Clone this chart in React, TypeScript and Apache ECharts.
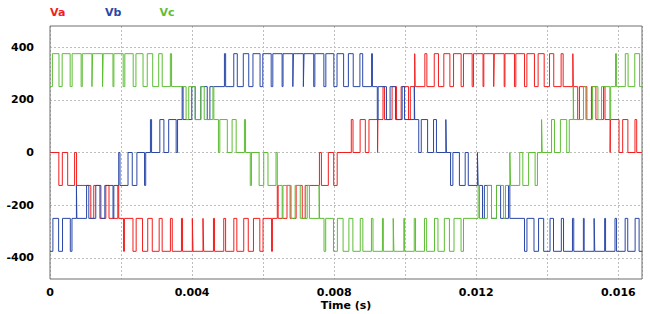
import React, { useEffect, useRef } from "react";
import * as echarts from "echarts";

const seriesNames = ["Va", "Vb", "Vc"];
const seriesColors = ["#f21d1d", "#2a47a6", "#5ebd35"];
const xTickLabels = ["0", "0.004", "0.008", "0.012", "0.016"];
const xAxisTitle = "Time (s)";

// [time in ms, level in V] — level holds until the next switching instant
const vaSteps: number[][] = [
  [0, 0], [0.2486, -125], [0.3467, 0], [0.4978, -125], [0.6927, 0], [0.7482, -125],
  [1.1492, -250], [1.2318, -125], [1.4038, -250], [1.5724, -125], [1.6614, -250], [1.91, -125],
  [1.9345, -250], [2.0712, -375], [2.0955, -250], [2.3361, -375], [2.4258, -250], [2.6053, -375],
  [2.7519, -250], [2.8791, -375], [3.0733, -250], [3.1579, -375], [3.3897, -250], [3.4419, -375],
  [3.7009, -250], [3.7313, -375], [4.0068, -250], [4.0262, -375], [4.3072, -250], [4.3266, -375],
  [4.602, -250], [4.6324, -375], [4.8914, -250], [4.9436, -375], [5.1754, -250], [5.26, -375],
  [5.4542, -250], [5.5814, -375], [5.7281, -250], [5.9075, -375], [5.9973, -250], [6.2378, -375],
  [6.2622, -250], [6.3988, -125], [6.4233, -250], [6.672, -125], [6.761, -250], [6.9295, -125],
  [7.1016, -250], [7.1841, -125], [7.5852, 0], [7.6406, -125], [7.8356, 0], [7.9867, -125],
  [8.0848, 0], [8.4821, 125], [8.5312, 0], [8.7307, 125], [8.8773, 0], [8.9799, 125],
  [9.2221, 0], [9.2303, 125], [9.375, 250], [9.4163, 125], [9.6313, 250], [9.7569, 125],
  [9.886, 250], [10.0946, 125], [10.1435, 250], [10.2679, 375], [10.28, 250], [10.5533, 375],
  [10.6104, 250], [10.8182, 375], [10.9364, 250], [11.0874, 375], [11.2578, 250], [11.3612, 375],
  [11.5742, 250], [11.6401, 375], [11.8854, 250], [11.9241, 375], [12.1913, 250], [12.2135, 375],
  [12.4917, 250], [12.5083, 375], [12.7865, 250], [12.8087, 375], [13.0759, 250], [13.1146, 375],
  [13.3599, 250], [13.4258, 375], [13.6388, 250], [13.7422, 375], [13.9126, 250], [14.0636, 375],
  [14.1818, 250], [14.3896, 375], [14.4467, 250], [14.72, 375], [14.7321, 250], [14.8565, 125],
  [14.9054, 250], [15.114, 125], [15.2431, 250], [15.3687, 125], [15.5837, 250], [15.625, 125],
  [15.7697, 0], [15.7779, 125], [16.0201, 0], [16.1228, 125], [16.2693, 0], [16.4688, 125],
  [16.5179, 0], [16.6667, 0],
];

const vbSteps: number[][] = [
  [0, -375], [0.0818, -250], [0.2427, -375], [0.3525, -250], [0.5717, -375], [0.6188, -250],
  [0.744, -125], [0.7559, -250], [1.0298, -125], [1.0925, -250], [1.2885, -125], [1.4322, -250],
  [1.544, -125], [1.7745, -250], [1.797, -125], [1.9345, 0], [1.9699, -125], [2.1967, 0],
  [2.3157, -125], [2.4463, 0], [2.6622, -125], [2.695, 0], [2.8274, 125], [2.8601, 0],
  [3.0923, 125], [3.2065, 0], [3.3412, 125], [3.5518, 0], [3.5911, 125], [3.7202, 250],
  [3.7466, 125], [3.9915, 250], [4.0881, 125], [4.2452, 250], [4.4268, 125], [4.5018, 250],
  [4.9107, 375], [4.9451, 250], [5.1739, 375], [5.2727, 250], [5.4416, 375], [5.5957, 250],
  [5.7139, 375], [5.9138, 250], [5.991, 375], [6.2267, 250], [6.2733, 375], [6.5344, 250],
  [6.5609, 375], [6.8366, 250], [6.8539, 375], [7.1333, 250], [7.1524, 375], [7.4245, 250],
  [7.4565, 375], [7.7103, 250], [7.7659, 375], [7.9908, 250], [8.0806, 375], [8.2663, 250],
  [8.4004, 375], [8.537, 250], [8.7249, 375], [8.8033, 250], [9.0539, 375], [9.0774, 250],
  [9.2144, 125], [9.238, 250], [9.473, 125], [9.5746, 250], [9.7285, 125], [9.9143, 250],
  [9.9815, 125], [10.2566, 250], [10.2679, 125], [10.3812, 0], [10.4521, 125], [10.6308, 0],
  [10.7978, 125], [10.8795, 0], [11.1443, 125], [11.1607, 0], [11.2768, -125], [11.3423, 0],
  [11.5257, -125], [11.6886, 0], [11.7756, -125], [12.0339, 0], [12.0536, -125], [12.176, -250],
  [12.2288, -125], [12.4298, -250], [12.5702, -125], [12.6863, -250], [12.909, -125], [12.9464, -250],
  [13.3584, -375], [13.4273, -250], [13.6261, -375], [13.7548, -250], [13.8984, -375], [14.0778, -250],
  [14.1755, -375], [14.3959, -250], [14.4578, -375], [14.7089, -250], [14.7454, -375], [15.0165, -250],
  [15.0384, -375], [15.3187, -250], [15.3369, -375], [15.6155, -250], [15.641, -375], [15.9067, -250],
  [15.9504, -375], [16.1924, -250], [16.2651, -375], [16.473, -250], [16.5849, -375], [16.6667, -375],
];

const vcSteps: number[][] = [
  [0, 250], [0.067, 375], [0.2527, 250], [0.3425, 375], [0.5674, 250], [0.623, 375],
  [0.8769, 250], [0.9088, 375], [1.1809, 250], [1.2, 375], [1.4795, 250], [1.4968, 375],
  [1.7725, 250], [1.7989, 375], [2.0601, 250], [2.1066, 375], [2.3423, 250], [2.4196, 375],
  [2.6195, 250], [2.7377, 375], [2.8917, 250], [3.0606, 375], [3.1594, 250], [3.3882, 375],
  [3.4226, 250], [3.8316, 125], [3.9065, 250], [4.0881, 125], [4.2452, 250], [4.3419, 125],
  [4.5867, 250], [4.6131, 125], [4.7422, 0], [4.7816, 125], [4.9922, 0], [5.1269, 125],
  [5.2411, 0], [5.4732, 125], [5.506, 0], [5.6384, -125], [5.6711, 0], [5.8871, -125],
  [6.0177, 0], [6.1366, -125], [6.3634, 0], [6.3988, -125], [6.5364, -250], [6.5589, -125],
  [6.7893, -250], [6.9012, -125], [7.0449, -250], [7.2408, -125], [7.3035, -250], [7.5775, -125],
  [7.5893, -250], [7.7146, -375], [7.7616, -250], [7.9808, -375], [8.0906, -250], [8.2515, -375],
  [8.4151, -250], [8.527, -375], [8.7349, -250], [8.8076, -375], [9.0496, -250], [9.0934, -375],
  [9.359, -250], [9.3846, -375], [9.6631, -250], [9.6813, -375], [9.9616, -250], [9.9835, -375],
  [10.2546, -250], [10.2911, -375], [10.5422, -250], [10.6041, -375], [10.8245, -250], [10.9222, -375],
  [11.1016, -250], [11.2452, -375], [11.3739, -250], [11.5727, -375], [11.6416, -250], [12.0536, -125],
  [12.091, -250], [12.3137, -125], [12.4298, -250], [12.5702, -125], [12.7712, -250], [12.824, -125],
  [12.9464, 0], [12.9661, -125], [13.2244, 0], [13.3114, -125], [13.4743, 0], [13.6577, -125],
  [13.7232, 0], [13.8393, 125], [13.8557, 0], [14.1205, 125], [14.2022, 0], [14.3692, 125],
  [14.5479, 0], [14.6188, 125], [14.7321, 250], [14.7434, 125], [15.0185, 250], [15.0857, 125],
  [15.2715, 250], [15.4254, 125], [15.527, 250], [15.762, 125], [15.7856, 250], [15.9226, 375],
  [15.9462, 250], [16.1967, 375], [16.2751, 250], [16.463, 375], [16.5996, 250], [16.6667, 250],
];

const allSteps = [vaSteps, vbSteps, vcSteps];

export default function App() {
  const ref = useRef<HTMLDivElement>(null);

  useEffect(() => {
    if (!ref.current) return;
    const chart = echarts.init(ref.current, undefined, { renderer: "svg" });
    const font = "DejaVu Sans";
    const labelStyle = {
      fontFamily: font,
      fontWeight: "bold" as const,
      fontSize: 11,
      lineHeight: 12,
      color: "#000",
    };
    const gridLine = { show: true, lineStyle: { color: "#bdbdbd", width: 1, type: [2, 2] as number[] } };
    const plotTop = 26;
    const plotH = 253;
    const innerTop = plotTop + (80 * plotH) / 960;
    const innerH = (800 * plotH) / 960;

    const option: any = {
      animation: false,
      backgroundColor: "#ffffff",
      grid: [
        {
          left: 50, width: 592, top: plotTop, height: plotH, show: true,
          borderColor: "#6e6e6e", borderWidth: 1, backgroundColor: "transparent", z: 3,
          containLabel: false, outerBoundsMode: "none",
        },
        { left: 50, width: 592, top: innerTop, height: innerH, containLabel: false, outerBoundsMode: "none" },
      ],
      xAxis: [
        {
          gridIndex: 0,
          type: "value",
          min: 0,
          max: 1 / 60,
          interval: 0.002,
          axisLine: { show: false },
          axisTick: { show: false },
          splitLine: gridLine,
          axisLabel: {
            ...labelStyle,
            margin: 7,
            formatter: (v: number) => {
              const r = v / 0.004;
              const n = Math.round(r);
              return Math.abs(r - n) < 1e-6 && xTickLabels[n] !== undefined ? xTickLabels[n] : "";
            },
          },
          name: xAxisTitle,
          nameLocation: "middle",
          nameGap: 20,
          nameMoveOverlap: false,
          nameTextStyle: labelStyle,
        },
        { gridIndex: 1, type: "value", min: 0, max: 1 / 60, show: false },
      ],
      yAxis: [
        { gridIndex: 0, type: "value", min: -480, max: 480, show: false },
        {
          gridIndex: 1,
          type: "value",
          min: -400,
          max: 400,
          interval: 200,
          axisLine: { show: false },
          axisTick: { show: false },
          splitLine: gridLine,
          axisLabel: { ...labelStyle, margin: 16 },
        },
      ],
      graphic: seriesNames.map((name, i) => ({
        type: "text",
        left: [50, 105, 159.5][i],
        top: 7,
        style: { text: name, fill: seriesColors[i], font: `bold 11px "${font}"` },
      })),
      series: allSteps.map((steps, i) => ({
        name: seriesNames[i],
        type: "line",
        xAxisIndex: 0,
        yAxisIndex: 0,
        step: "end",
        showSymbol: false,
        symbol: "none",
        silent: true,
        z: 2 + i,
        lineStyle: { color: seriesColors[i], width: 1 },
        data: steps.map(([t, v]) => [t / 1000, v]),
      })),
    };
    chart.setOption(option);
    return () => chart.dispose();
  }, []);

  return (
    <div
      ref={ref}
      style={{ position: "absolute", left: 0, top: 0, width: 650, height: 314, background: "#fff" }}
    />
  );
}
